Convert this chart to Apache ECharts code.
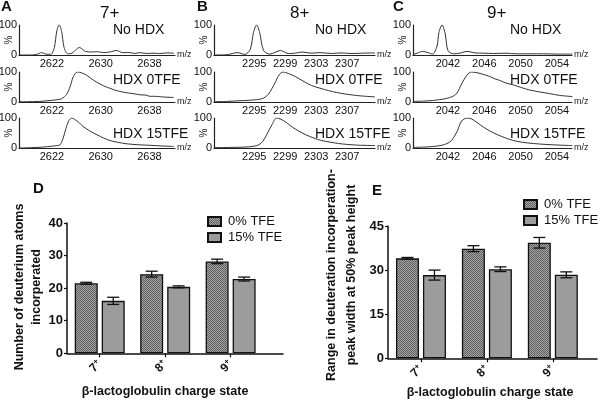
<!DOCTYPE html>
<html><head><meta charset="utf-8">
<script src="https://cdn.jsdelivr.net/npm/echarts@6/dist/echarts.min.js"></script>
<style>html,body{margin:0;padding:0;background:#fff}#c{width:600px;height:407px}</style>
</head><body><div id="c"></div>
<script>
// ---------- spectra data (m/z, % intensity) ----------
const mz7n = [2616.6, 2618.5, 2619.5, 2620.3, 2621.0, 2621.8, 2622.4, 2622.8, 2623.2, 2623.6, 2624.0, 2624.6, 2625.3, 2626.5, 2627.5, 2628.5, 2629.5, 2630.5, 2631.5, 2632.6, 2633.6, 2634.8, 2635.6, 2636.4, 2637.5, 2638.6, 2639.7, 2640.9, 2642.0];
const i7n  = [0, 0, 2, 8, 3, 2, 25, 80, 100, 78, 25, 4, 6, 25, 12, 10, 11, 8, 10, 15, 8, 8, 5, 8, 5, 6, 5, 7, 6];
const mz7a = [2616.6, 2618.0, 2620.0, 2621.7, 2623.0, 2623.6, 2624.4, 2625.0, 2625.5, 2626.2, 2626.9, 2627.7, 2628.8, 2629.9, 2630.7, 2631.5, 2632.3, 2633.2, 2634.2, 2635.3, 2636.5, 2637.4, 2638.1, 2639.0, 2640.0, 2640.9, 2642.0];
const i7a  = [1, 1, 2, 5, 8, 11, 25, 52, 84, 100, 97, 89, 73, 60, 52, 46, 40, 35, 31, 28, 24, 23, 19, 19, 17, 16, 15];
const mz7b = [2616.6, 2618.5, 2620.5, 2622.0, 2622.8, 2623.3, 2623.8, 2624.3, 2624.8, 2625.3, 2625.9, 2626.5, 2627.1, 2628.2, 2629.4, 2630.5, 2631.5, 2632.8, 2634.3, 2636.0, 2638.1, 2640.0, 2642.0];
const i7b  = [0, 1, 3, 6, 8, 10, 30, 65, 92, 100, 93, 84, 72, 57, 44, 33, 25, 19, 14, 11, 9, 7, 5];

const mz8n = [2289.8, 2291.5, 2292.8, 2293.8, 2294.5, 2294.9, 2295.3, 2295.7, 2296.2, 2297.0, 2298.4, 2299.4, 2300.3, 2301.2, 2302.4, 2303.5, 2305.0, 2306.3, 2307.5, 2308.8, 2310.6];
const i8n  = [0, 1, 8, 2, 20, 75, 100, 75, 15, 3, 15, 5, 6, 10, 6, 8, 5, 7, 5, 6, 7];
const mz8a = [2289.8, 2291.5, 2293.0, 2294.5, 2296.0, 2296.8, 2297.7, 2298.2, 2298.7, 2299.4, 2300.3, 2301.3, 2302.4, 2303.5, 2304.6, 2305.6, 2306.7, 2307.8, 2308.9, 2310.6];
const i8a  = [1, 2, 4, 6, 11, 25, 65, 90, 100, 95, 85, 70, 55, 46, 38, 32, 27, 23, 20, 17];
const mz8b = [2289.8, 2292.0, 2293.8, 2295.0, 2295.6, 2296.1, 2296.6, 2297.3, 2297.9, 2298.8, 2299.9, 2300.7, 2301.6, 2302.6, 2303.7, 2305.9, 2308.0, 2310.6];
const i8b  = [1, 2, 3, 6, 11, 22, 44, 78, 100, 91, 70, 57, 45, 34, 25, 15, 10, 8];

const mz9n = [2038.2, 2038.6, 2039.2, 2039.8, 2040.3, 2040.8, 2041.0, 2041.35, 2041.7, 2042.0, 2042.6, 2043.3, 2044.1, 2045.0, 2045.9, 2047.0, 2048.5, 2049.5, 2051.0, 2052.5, 2054.0, 2055.7];
const i9n  = [2, 6, 12, 8, 3, 30, 75, 100, 70, 15, 4, 6, 12, 7, 6, 5, 6, 4, 4, 4, 3, 3];
const mz9a = [2038.2, 2039.3, 2040.3, 2041.1, 2041.7, 2042.2, 2042.6, 2043.0, 2043.5, 2044.1, 2044.6, 2045.3, 2046.0, 2046.6, 2047.1, 2047.7, 2048.5, 2049.2, 2050.1, 2051.0, 2052.0, 2053.2, 2054.3, 2055.7];
const i9a  = [2, 3, 5, 8, 11, 15, 20, 30, 60, 90, 100, 97, 91, 85, 78, 72, 62, 57, 48, 40, 34, 28, 22, 18];
const mz9b = [2038.2, 2039.3, 2040.4, 2041.3, 2041.9, 2042.4, 2043.0, 2043.5, 2044.1, 2044.6, 2045.2, 2045.9, 2046.6, 2047.4, 2048.3, 2049.2, 2050.2, 2051.4, 2052.7, 2054.0, 2055.7];
const i9b  = [2, 3, 5, 9, 15, 25, 55, 90, 100, 97, 85, 70, 57, 45, 34, 25, 19, 15, 12, 10, 8];

// tick labels and axis ranges of spectra columns
const ticks7 = [2622, 2630, 2638];
const ticks8 = [2295, 2299, 2303, 2307];
const ticks9 = [2042, 2046, 2050, 2054];
const range7 = [2616.6, 2642.2];
const range8 = [2289.8, 2310.6];
const range9 = [2038.15, 2055.66];
const chargeTitles = ['7+', '8+', '9+'];
const panelLetters = ['A', 'B', 'C'];
const conditionLabels = ['No HDX', 'HDX 0TFE', 'HDX 15TFE'];

// ---------- bar chart data ----------
const categories = ['7', '8', '9'];
const catPos = [0.5, 1.5, 2.5];
const seriesNames = ['0% TFE', '15% TFE'];
const dDeut0 = [21.5, 24.3, 28.2];
const dDeut0Err = [0.3, 0.9, 0.7];
const dDeut15 = [16.1, 20.4, 22.8];
const dDeut15Err = [1.1, 0.3, 0.6];
const eWidth0 = [34.0, 37.3, 39.3];
const eWidth0Err = [0.3, 1.0, 1.8];
const eWidth15 = [28.3, 30.3, 28.4];
const eWidth15Err = [1.7, 0.8, 1.0];

// ---------- layout/style ----------
const FF = 'Liberation Sans, Arial, sans-serif';
const colLeft = [19, 214, 413], colRight = [175, 375, 572];
const rowTop = [25, 72, 118], rowH = 30;

const pc = document.createElement('canvas');
pc.width = 2; pc.height = 2;
const pctx = pc.getContext('2d');
pctx.fillStyle = '#a6a6a6'; pctx.fillRect(0, 0, 2, 2);
pctx.fillStyle = '#5e5e5e'; pctx.fillRect(0, 0, 1, 1); pctx.fillRect(1, 1, 1, 1);
const checker = { image: pc, repeat: 'repeat' };
const lightGrey = '#9c9c9c';

const spectra = [
  { col: 0, row: 0, mz: mz7n, y: i7n }, { col: 0, row: 1, mz: mz7a, y: i7a }, { col: 0, row: 2, mz: mz7b, y: i7b },
  { col: 1, row: 0, mz: mz8n, y: i8n }, { col: 1, row: 1, mz: mz8a, y: i8a }, { col: 1, row: 2, mz: mz8b, y: i8b },
  { col: 2, row: 0, mz: mz9n, y: i9n }, { col: 2, row: 1, mz: mz9a, y: i9a }, { col: 2, row: 2, mz: mz9b, y: i9b }
];
const colTicks = [ticks7, ticks8, ticks9];
const colRanges = [range7, range8, range9];

const grid = [], xAxis = [], yAxis = [], series = [];
spectra.forEach((s, i) => {
  grid.push({ left: colLeft[s.col], width: colRight[s.col] - colLeft[s.col], top: rowTop[s.row], height: rowH, outerBoundsMode: 'none' });
  xAxis.push({
    gridIndex: i, type: 'value', min: colRanges[s.col][0], max: colRanges[s.col][1],
    axisLine: { lineStyle: { color: '#222', width: 1.2 } }, axisTick: { show: false }, splitLine: { show: false },
    axisLabel: { customValues: colTicks[s.col], formatter: v => String(v), fontSize: 11, color: '#111', margin: 3, fontFamily: FF },
    name: 'm/z', nameLocation: 'end', nameGap: 2, nameMoveOverlap: false,
    nameTextStyle: { fontSize: 9, color: '#222', fontFamily: FF, verticalAlign: 'middle' }
  });
  yAxis.push({
    gridIndex: i, type: 'value', min: 0, max: 100, interval: 100,
    axisLine: { show: true, lineStyle: { color: '#222', width: 1.2 } }, axisTick: { show: false }, splitLine: { show: false },
    axisLabel: { fontSize: 11, color: '#111', margin: 2, fontFamily: FF },
    name: '%', nameLocation: 'middle', nameRotate: 90, nameGap: 5, nameMoveOverlap: false,
    nameTextStyle: { fontSize: 10, color: '#222', fontFamily: FF }
  });
  series.push({
    type: 'line', xAxisIndex: i, yAxisIndex: i, data: s.mz.map((m, k) => [m, s.y[k]]),
    showSymbol: false, smooth: 0.3, lineStyle: { color: '#333', width: 1 }, silent: true
  });
});

// bar chart grids
const barGrids = [
  { left: 67, width: 216, top: 223, height: 130.3, max: 40, interval: 10, xmax: 3.3, vals: [dDeut0, dDeut15], errs: [dDeut0Err, dDeut15Err] },
  { left: 388, width: 209, top: 226, height: 132.3, max: 45, interval: 15, xmax: 3.17, vals: [eWidth0, eWidth15], errs: [eWidth0Err, eWidth15Err] }
];
const BAR_W = 23, BAR_GAP = 4;
barGrids.forEach((b, j) => {
  const gi = 9 + j;
  grid.push({ left: b.left, width: b.width, top: b.top, height: b.height, outerBoundsMode: 'none' });
  xAxis.push({
    gridIndex: gi, type: 'value', min: 0, max: b.xmax,
    axisLine: { lineStyle: { color: '#111', width: 1.5 } },
    axisTick: { show: true, customValues: catPos, length: 4, lineStyle: { color: '#111', width: 1.2 } },
    splitLine: { show: false },
    axisLabel: {
      customValues: catPos, rotate: 45, margin: 9,
      formatter: v => '{n|' + categories[Math.round(v - 0.5)] + '}{s|+}',
      rich: {
        n: { fontSize: 12, fontWeight: 'bold', color: '#111', fontFamily: FF },
        s: { fontSize: 8, fontWeight: 'bold', color: '#111', fontFamily: FF, verticalAlign: 'top', padding: [0, 0, 6, 0] }
      }
    }
  });
  yAxis.push({
    gridIndex: gi, type: 'value', min: 0, max: b.max, interval: b.interval,
    axisLine: { show: true, lineStyle: { color: '#111', width: 1.5 } },
    axisTick: { show: true, length: 3, lineStyle: { color: '#111', width: 1.2 } },
    splitLine: { show: false },
    axisLabel: { fontSize: 13, fontWeight: 'bold', color: '#111', margin: 4, fontFamily: FF }
  });
  [0, 1].forEach(k => {
    series.push({
      type: 'bar', name: seriesNames[k], xAxisIndex: gi, yAxisIndex: gi,
      data: catPos.map((p, c) => [p, b.vals[k][c]]),
      barWidth: BAR_W, barGap: (BAR_GAP / BAR_W * 100) + '%',
      itemStyle: { color: k === 0 ? checker : lightGrey, borderColor: '#111', borderWidth: 1.3 },
      silent: true
    });
  });
  [0, 1].forEach(k => {
    const off = (k === 0 ? -1 : 1) * (BAR_W + BAR_GAP) / 2;
    series.push({
      type: 'custom', xAxisIndex: gi, yAxisIndex: gi, z: 5, silent: true,
      data: catPos.map((p, c) => [p, b.vals[k][c], b.errs[k][c]]),
      renderItem: (params, api) => {
        const x = api.value(0), v = api.value(1), e = api.value(2);
        const t = api.coord([x, v + e]), lo = api.coord([x, v - e]);
        const cx = t[0] + off, hw = 6;
        const st = { stroke: '#111', lineWidth: 1.3 };
        return {
          type: 'group', children: [
            { type: 'line', shape: { x1: cx, y1: t[1], x2: cx, y2: lo[1] }, style: st },
            { type: 'line', shape: { x1: cx - hw, y1: t[1], x2: cx + hw, y2: t[1] }, style: st },
            { type: 'line', shape: { x1: cx - hw, y1: lo[1], x2: cx + hw, y2: lo[1] }, style: st }
          ]
        };
      }
    });
  });
});

// ---------- texts ----------
function txt(text, x, y, size, opts) {
  opts = opts || {};
  return {
    type: 'text', x: x, y: y, rotation: opts.rot || 0, silent: true,
    style: {
      text: text, fill: '#111', fontSize: size, fontWeight: opts.bold ? 'bold' : 'normal', fontFamily: FF,
      align: opts.align || 'left', verticalAlign: 'middle', textAlign: opts.align || 'left', textVerticalAlign: 'middle',
      lineHeight: opts.lh || size * 1.2
    }
  };
}
const graphic = [];
const letterX = [1, 197, 393], titleX = [100, 290, 487], condX = [113, 315, 510], condY = [30, 80, 134];
for (let c = 0; c < 3; c++) {
  graphic.push(txt(panelLetters[c], letterX[c], 7, 15, { bold: true }));
  graphic.push(txt(chargeTitles[c], titleX[c], 13, 17));
  for (let r = 0; r < 3; r++) graphic.push(txt(conditionLabels[r], condX[c], condY[r], 14));
}
graphic.push(txt('D', 33, 189, 15, { bold: true }));
graphic.push(txt('E', 372, 191, 15, { bold: true }));
graphic.push(txt('Number of deuterium atoms\nincorperated', 28.5, 287, 12.5, { bold: true, rot: Math.PI / 2, align: 'center', lh: 17 }));
graphic.push(txt('Range in deuteration incorperation-\npeak width at 50% peak height', 342, 275, 12.5, { bold: true, rot: Math.PI / 2, align: 'center', lh: 20 }));
graphic.push(txt('β-lactoglobulin charge state', 165, 392, 12.5, { bold: true, align: 'center' }));
graphic.push(txt('β-lactoglobulin charge state', 490, 393, 12.5, { bold: true, align: 'center' }));

const chart = echarts.init(document.getElementById('c'), null, { renderer: 'canvas' });
chart.setOption({
  animation: false,
  backgroundColor: '#fff',
  grid: grid, xAxis: xAxis, yAxis: yAxis, series: series, graphic: graphic,
  legend: [
    { data: seriesNames, left: 207, top: 215, padding: 0, orient: 'vertical', itemWidth: 13, itemHeight: 9, itemGap: 3, icon: 'rect',
      textStyle: { fontSize: 13, color: '#111', fontFamily: FF, padding: [0, 0, 0, 2] }, selectedMode: false },
    { data: seriesNames, left: 523, top: 198, padding: 0, orient: 'vertical', itemWidth: 13, itemHeight: 9, itemGap: 3, icon: 'rect',
      textStyle: { fontSize: 13, color: '#111', fontFamily: FF, padding: [0, 0, 0, 2] }, selectedMode: false }
  ]
});
</script></body></html>
